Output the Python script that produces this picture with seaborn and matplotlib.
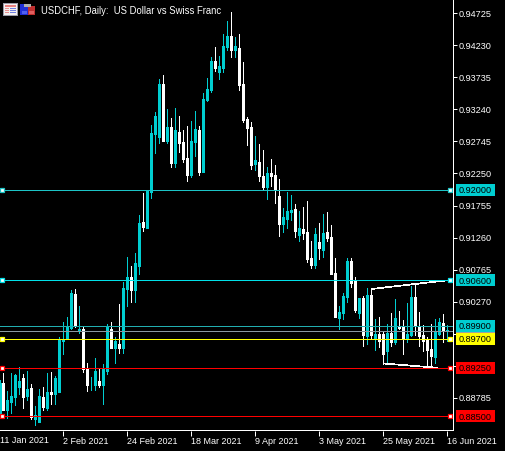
import numpy as np
import pandas as pd
import seaborn as sns
import matplotlib
matplotlib.use('Agg')
import matplotlib.pyplot as plt
from matplotlib.patches import Rectangle
from matplotlib.transforms import IdentityTransform

# daily USDCHF, prices in 1/100000
opens = [88554, 89017, 88600, 88723, 88800, 88955, 89094, 88816, 88939, 88461, 88414, 88800, 88631, 88878, 88847,
         88878, 89664, 89711, 89865, 90390, 89818, 89849, 89232, 88978, 88986, 89047, 88986, 89202, 89849, 89556,
         89618, 89556, 90467, 90652, 90451, 90822, 91500, 91408, 91963, 92858, 92812, 93630, 92750, 92966, 92411,
         92889, 92735, 92488, 92226, 92735, 92920, 92272, 93383, 93537, 93985, 93815, 93877, 94201, 94371, 94154,
         94185, 93630, 93090, 92966, 92395, 92426, 92210, 92040, 92257, 92226, 91902, 91470, 91547, 91655, 91701,
         91300, 91393, 91346, 90945, 90837, 91192, 91069, 91346, 91269, 90714, 90019, 90097, 90343, 90899, 90590,
         90097, 90328, 89742, 90374, 89711, 89772, 89772, 89510, 89788, 89649, 89896, 89880, 89711, 89757, 90343,
         89880, 89757, 89680, 89541, 89417, 89772, 89942, 89818]
highs = [89063, 89171, 88893, 89171, 89155, 89263, 89155, 89202, 89001, 88662, 88924, 88955, 89171, 89186, 89125,
         89726, 89957, 90034, 90451, 90467, 90205, 89896, 89325, 89109, 89402, 89232, 89309, 89927, 89957, 89726,
         90235, 90575, 90961, 90822, 91023, 91609, 91948, 91994, 92997, 93198, 93707, 93769, 93244, 93105, 93260,
         93136, 92920, 92982, 93059, 93213, 92982, 93491, 93722, 94046, 94201, 94062, 94401, 94602, 94741, 94355,
         94401, 93969, 93121, 93044, 92827, 92704, 92612, 92349, 92473, 92380, 92164, 91717, 91963, 91917, 91778,
         91670, 91732, 91825, 91207, 91408, 91485, 91624, 91655, 91454, 90945, 90205, 90405, 90945, 90945, 90652,
         90328, 90359, 90482, 90467, 90004, 90034, 89818, 89927, 90097, 90312, 90127, 89988, 90251, 90513, 90544,
         90112, 89911, 89726, 89927, 90004, 90019, 90081, 89911]
lows = [88523, 88600, 88476, 88554, 88677, 88847, 88631, 88754, 88461, 88368, 88414, 88600, 88600, 88692, 88692,
        88878, 89464, 89695, 89849, 89880, 89788, 89186, 88893, 88908, 88908, 88955, 88692, 89155, 89556, 89325,
        89479, 89479, 90205, 90266, 90266, 90698, 91362, 91408, 91871, 92566, 92719, 92750, 92719, 92349, 92349,
        92581, 92426, 92134, 92195, 92519, 92226, 92272, 93368, 93506, 93830, 93707, 93815, 94154, 94046, 94046,
        93537, 93044, 92689, 92318, 92303, 92134, 91994, 91855, 92056, 91794, 91285, 91346, 91408, 91531, 91269,
        91207, 91238, 90883, 90791, 90791, 90930, 90961, 91207, 90698, 90034, 89849, 90004, 90266, 90498, 90112,
        90019, 89587, 89618, 89695, 89526, 89572, 89309, 89325, 89587, 89618, 89849, 89464, 89649, 89742, 89757,
        89587, 89510, 89263, 89279, 89325, 89757, 89649, 89664]
closes = [89017, 88600, 88754, 88816, 89140, 89047, 88800, 88924, 88492, 88523, 88816, 88646, 88878, 88847, 89094,
          89680, 89695, 89880, 90405, 89896, 89849, 89232, 88986, 88986, 89202, 88986, 89232, 89880, 89556, 89664,
          89556, 90482, 90652, 90451, 90868, 91485, 91423, 91979, 92874, 93136, 93630, 92750, 92966, 92411, 92920,
          92719, 92473, 92226, 92750, 92935, 92272, 93398, 93553, 93985, 93877, 93908, 94216, 94371, 94154, 94216,
          93614, 93074, 92951, 92380, 92457, 92210, 92040, 92257, 92210, 91994, 91470, 91578, 91670, 91686, 91362,
          91408, 91331, 90930, 90837, 91315, 91099, 91331, 91254, 90698, 90034, 90112, 90359, 90899, 90559, 90143,
          90328, 89757, 90374, 89757, 89772, 89664, 89464, 89788, 89649, 90019, 89865, 89711, 89772, 90343, 89896,
          89742, 89664, 89526, 89433, 89818, 89957, 89818, 89834]

date_positions = [15, 31, 47, 63, 79, 95, 111]
date_labels = ['2 Feb 2021', '24 Feb 2021', '18 Mar 2021', '9 Apr 2021', '3 May 2021', '25 May 2021', '16 Jun 2021']
first_date = '11 Jan 2021'

price_ticks = [0.94725, 0.94230, 0.93735, 0.93240, 0.92745, 0.92250, 0.91755, 0.91260, 0.90765, 0.90270,
               0.89775, 0.89280, 0.88785]
hidden_ticks = [0.89775, 0.89280]  # sit behind the level boxes

# levels: price, colour, has drag handles, box colour
level_prices = [0.92000, 0.90600, 0.89900, 0.89825, 0.89700, 0.89250, 0.88500]
level_lines = ['#1cc4c6', '#00e0e8', '#22aeb0', '#8a98a0', '#ffff00', '#ff0000', '#ff0000']
level_boxes = ['#00ced1', '#00ced1', '#00ced1', '#a0a0a0', '#ffff00', '#ff0000', '#ff0000']
level_handles = [True, True, False, False, True, True, True]

upper_trend_x, upper_trend_y = [92, 110.4], [0.90467, 0.90597]
lower_trend_x, lower_trend_y = [95, 108.5], [0.89317, 0.89252]

CANDLE_UP = '#00ced1'
CANDLE_DOWN = '#ffffff'

sns.set_theme(style='dark', rc={'axes.facecolor': 'black', 'figure.facecolor': 'black'})
plt.rcParams['font.family'] = ['Liberation Sans', 'DejaVu Sans']
PX = 72 / 100

n = len(opens)
idx = np.arange(n) - 1
df = pd.DataFrame({'idx': idx, 'open': np.array(opens) / 1e5, 'high': np.array(highs) / 1e5,
                   'low': np.array(lows) / 1e5, 'close': np.array(closes) / 1e5})
df['dir'] = np.where(df['close'] >= df['open'], 'up', 'down')
wicks = df.melt(id_vars=['idx', 'dir'], value_vars=['low', 'high'], value_name='price')
bodies = df.melt(id_vars=['idx', 'dir'], value_vars=['open', 'close'], value_name='price')
palette = {'up': CANDLE_UP, 'down': CANDLE_DOWN}

fig = plt.figure(figsize=(5.06, 4.51), dpi=100)
ax = fig.add_axes([0, 20.5 / 451, 453.5 / 506, 430.5 / 451])

sns.lineplot(data=wicks, x='idx', y='price', hue='dir', units='idx', estimator=None, palette=palette,
             lw=0.65, legend=False, ax=ax, antialiased=False, solid_capstyle='butt', sort=False, zorder=2)
sns.lineplot(data=bodies, x='idx', y='price', hue='dir', units='idx', estimator=None, palette=palette,
             lw=2.0, legend=False, ax=ax, antialiased=False, solid_capstyle='butt', sort=False, zorder=2.1)

ax.set_xlim(-0.875, 112.5)
ax.set_ylim(0.94926 - 0.0001543 * 430.5, 0.94926)
ax.set_xlabel('')
ax.set_ylabel('')
ax.grid(False)

for s in ax.spines:
    ax.spines[s].set_visible(False)

ax.yaxis.tick_right()
ax.set_yticks(price_ticks)
ax.set_yticklabels(['' if p in hidden_ticks else '%.5f' % p for p in price_ticks])
ax.set_xticks(date_positions)
ax.set_xticklabels(date_labels, ha='left')
ax.tick_params(axis='y', colors='white', labelsize=9.2 * PX, length=3, width=0.72, pad=0.7,
               right=True, left=False, labelright=True, labelleft=False)
ax.tick_params(axis='x', colors='white', labelsize=9 * PX, length=3.6, width=0.72, pad=0.8, bottom=True)
ax.text(0, -8.8 / 430.5, first_date, transform=ax.transAxes, color='white', fontsize=9 * PX,
        va='center_baseline', ha='left')

# trend lines
for tx, ty in [(upper_trend_x, upper_trend_y), (lower_trend_x, lower_trend_y)]:
    ax.plot(tx, ty, color='white', lw=0.5, antialiased=False, zorder=2.5)

yt = ax.get_yaxis_transform()
for price, line_col, box_col, handle in zip(level_prices, level_lines, level_boxes, level_handles):
    ax.axhline(price, color=line_col, lw=0.72, antialiased=False, zorder=3)
    if handle:
        for fx in [2.5 / 453.5, 450.5 / 453.5]:
            ax.plot([fx], [price], transform=yt, marker='s', ms=3, mfc='white', mec=line_col, mew=0.9,
                    zorder=4, clip_on=False)

for price, box_col in zip(level_prices, level_boxes):
    y_px = (0.94926 - price) / 0.0001543
    fig.add_artist(Rectangle((456, 451 - y_px - 6), 39, 12, transform=IdentityTransform(), color=box_col,
                             lw=0, zorder=10 + (1 if price != 0.89825 else 0)))
    if price != 0.89825:
        fig.text(475.5 / 506, (451 - y_px) / 451, '%.5f' % price, color='black', fontsize=9.2 * PX,
                 ha='center', va='center_baseline', zorder=12)

# title and the two small window icons
fig.text(41 / 506, 1 - 10 / 451, 'USDCHF, Daily:  US Dollar vs Swiss Franc', color='white', fontsize=9.55 * PX,
         ha='left', va='center_baseline', zorder=12)


def px_rect(x, y, w, h, color, zorder=12):
    fig.add_artist(Rectangle((x, 451 - y - h), w, h, transform=IdentityTransform(), color=color, lw=0,
                             zorder=zorder))


# axis lines
px_rect(453, 0, 1, 431, 'white', zorder=9)
px_rect(0, 430, 454, 1, 'white', zorder=9)

px_rect(3, 3, 15, 13, '#9a9aa8')
px_rect(4, 4, 13, 11, '#f4f0f0')
px_rect(5, 5, 11, 2, '#e88080')
for ry in [8, 10, 12]:
    px_rect(5, ry, 4, 1, '#e89090')
    px_rect(10, ry, 6, 1, '#7080e0')
px_rect(20, 4, 8, 11, '#2030d8')
px_rect(28, 6, 7, 9, '#c03030')
px_rect(24, 4, 7, 3, '#b0b0b0')
px_rect(22, 11, 5, 3, '#5060f0')
px_rect(29, 11, 5, 3, '#e06060')

fig.savefig('out.png', dpi=100, facecolor='black')
